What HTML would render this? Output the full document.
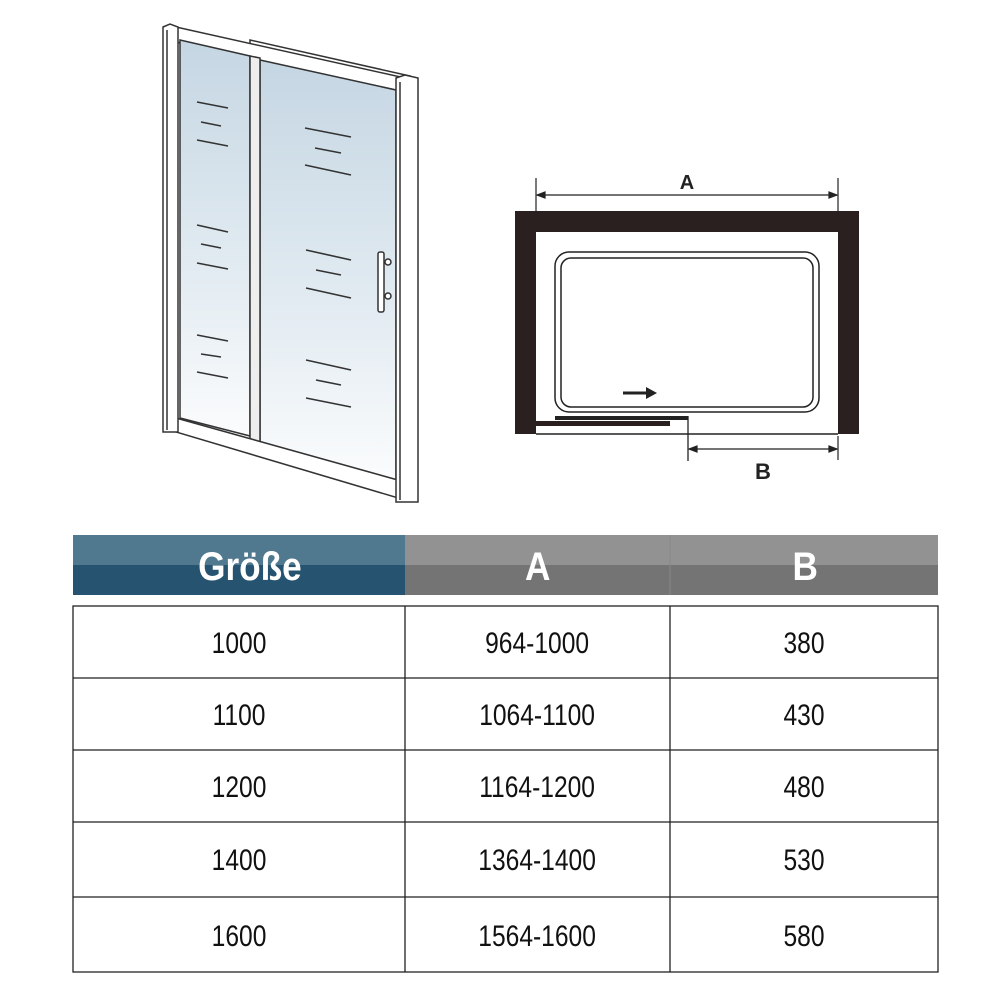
<!DOCTYPE html>
<html><head><meta charset="utf-8"><style>
body{margin:0;background:#fff;width:1000px;height:1000px;position:relative;overflow:hidden;font-family:"Liberation Sans",sans-serif}
</style></head><body>
<svg width="1000" height="1000" style="position:absolute;left:0;top:0">
<defs>
<linearGradient id="g" x1="0" y1="0" x2="0" y2="1">
<stop offset="0" stop-color="#c5d6e3"/><stop offset="0.6" stop-color="#e3ecf2"/><stop offset="1" stop-color="#fbfcfd"/></linearGradient>
</defs>
<g stroke="#333" stroke-width="1.5" fill="#fff">
<polygon points="250,40 410,76 410,84 250,48"/>
<polygon points="176,27 405,78 405,92 176,42"/>
<polygon points="180,40 250,56 250,436 180,418" fill="url(#g)"/>
<polygon points="260,60 396,90 396,482 260,442" fill="url(#g)"/>
<polygon points="250,56 260,58 260,442 250,440" fill="#eee"/>
<polygon points="176,418 405,482 405,500 176,432"/>
<polygon points="163,27 170,24 178,27 178,432 163,432"/>
<polygon points="396,78 405,75 418,78 418,502 396,502"/>
<line x1="167" y1="30" x2="167" y2="430"/><line x1="400" y1="82" x2="400" y2="500"/>
<rect x="378" y="252" width="6" height="60" rx="2"/>
<circle cx="388" cy="262" r="3"/><circle cx="388" cy="296" r="3"/>
</g>
<g stroke="#333" stroke-width="1.6">
<line x1="197" y1="102" x2="228" y2="108"/><line x1="201" y1="122" x2="221" y2="126"/><line x1="197" y1="140" x2="228" y2="146"/>
<line x1="197" y1="225" x2="228" y2="232"/><line x1="201" y1="244" x2="221" y2="248"/><line x1="197" y1="263" x2="228" y2="269"/>
<line x1="197" y1="335" x2="228" y2="341"/><line x1="201" y1="354" x2="221" y2="357"/><line x1="197" y1="372" x2="228" y2="378"/>
<line x1="305" y1="128" x2="351" y2="137"/><line x1="315" y1="148" x2="341" y2="153"/><line x1="305" y1="165" x2="351" y2="175"/>
<line x1="306" y1="250" x2="351" y2="260"/><line x1="316" y1="270" x2="341" y2="275"/><line x1="306" y1="288" x2="351" y2="298"/>
<line x1="306" y1="360" x2="351" y2="370"/><line x1="316" y1="380" x2="341" y2="385"/><line x1="306" y1="398" x2="351" y2="407"/>
</g>
<path d="M515,211 H859 V434 H838 V232 H536 V434 H515 Z" fill="#2a2020"/>
<line x1="536" y1="434" x2="838" y2="434" stroke="#222" stroke-width="1.5"/>
<rect x="555" y="252" width="264" height="160" rx="14" fill="none" stroke="#222" stroke-width="1.5"/>
<rect x="561" y="258" width="252" height="149" rx="10" fill="none" stroke="#222" stroke-width="1.5"/>
<rect x="555" y="416" width="133" height="4" fill="#222"/>
<rect x="536" y="421" width="134" height="5" fill="#2a2020"/>
<line x1="688" y1="416" x2="688" y2="461" stroke="#222" stroke-width="1.3"/>
<line x1="623" y1="393" x2="648" y2="393" stroke="#222" stroke-width="3"/>
<polygon points="646,387 657,393 646,399" fill="#222"/>
<g stroke="#222" stroke-width="1.2" fill="#222">
<line x1="536" y1="178" x2="536" y2="215"/><line x1="838" y1="178" x2="838" y2="215"/>
<line x1="537" y1="195" x2="837" y2="195"/>
<polygon points="537,195 545,192 545,198"/><polygon points="837,195 829,192 829,198"/>
<line x1="838" y1="436" x2="838" y2="460"/>
<line x1="689" y1="449" x2="837" y2="449"/>
<polygon points="689,449 697,446 697,452"/><polygon points="837,449 829,446 829,452"/>
</g>
<text x="687" y="189" font-family="Liberation Sans" font-weight="bold" font-size="20" text-anchor="middle" fill="#222">A</text>
<text x="763" y="479" font-family="Liberation Sans" font-weight="bold" font-size="22" text-anchor="middle" fill="#222">B</text>
<rect x="73" y="535" width="332" height="30" fill="#50788f"/><rect x="73" y="565" width="332" height="30" fill="#265470"/>
<rect x="405" y="535" width="533" height="30" fill="#929292"/><rect x="405" y="565" width="533" height="30" fill="#747474"/>
<line x1="670" y1="535" x2="670" y2="595" stroke="#888" stroke-width="1"/>
<g stroke="#222" stroke-width="1.3" fill="none">
<rect x="73" y="606" width="865" height="366"/>
<line x1="73" y1="678" x2="938" y2="678"/><line x1="73" y1="750" x2="938" y2="750"/>
<line x1="73" y1="822" x2="938" y2="822"/><line x1="73" y1="897" x2="938" y2="897"/>
<line x1="405" y1="606" x2="405" y2="972"/><line x1="670" y1="606" x2="670" y2="972"/>
</g>
<g font-family="Liberation Sans" font-size="30" fill="#111" text-anchor="middle" transform="scale(0.82,1)">
<text x="291.5" y="653">1000</text><text x="655" y="653">964-1000</text><text x="980.5" y="653">380</text>
<text x="291.5" y="725">1100</text><text x="655" y="725">1064-1100</text><text x="980.5" y="725">430</text>
<text x="291.5" y="797">1200</text><text x="655" y="797">1164-1200</text><text x="980.5" y="797">480</text>
<text x="291.5" y="870">1400</text><text x="655" y="870">1364-1400</text><text x="980.5" y="870">530</text>
<text x="291.5" y="946">1600</text><text x="655" y="946">1564-1600</text><text x="980.5" y="946">580</text>
</g>
<g font-family="Liberation Sans" font-weight="bold" fill="#fff" text-anchor="middle" transform="scale(0.88,1)">
<text x="284" y="580" font-size="40">Größe</text>
<text x="611" y="580" font-size="40">A</text>
<text x="915" y="580" font-size="40">B</text>
</g>
</svg>
</body></html>
